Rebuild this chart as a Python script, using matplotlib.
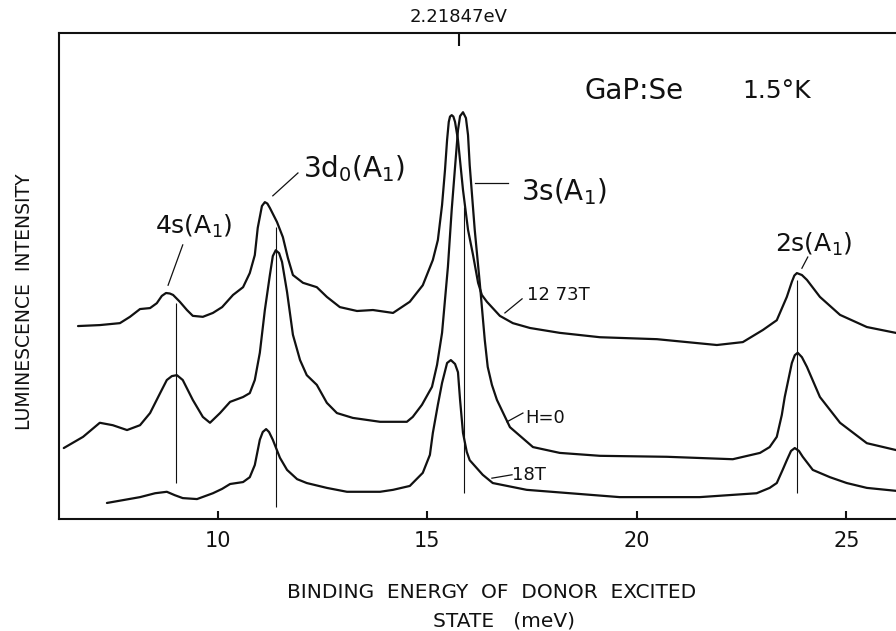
import matplotlib
matplotlib.use('Agg')
import matplotlib.pyplot as plt

plt.rcParams['font.family'] = ['DejaVu Sans']
plt.rcParams['mathtext.default'] = 'regular'

# spectra: binding energy (meV) vs intensity (arb. units, 0-100)
e_1273 = [6.66, 7.18, 7.66, 7.90, 8.14, 8.38, 8.54, 8.66, 8.76, 8.85, 8.93, 9.09, 9.26, 9.40,
          9.64, 9.88, 10.10, 10.36, 10.60, 10.76, 10.88, 10.95, 11.05, 11.12, 11.18, 11.24,
          11.41, 11.55, 11.67, 11.79, 12.03, 12.36, 12.60, 12.91, 13.32, 13.70, 14.18, 14.58,
          14.89, 15.13, 15.25, 15.35, 15.42, 15.47, 15.51, 15.54, 15.58, 15.62, 15.66, 15.73,
          15.85, 15.97, 16.09, 16.21, 16.30, 16.42, 16.73, 17.04, 17.45, 18.16, 19.12, 20.48,
          21.91, 22.53, 23.01, 23.34, 23.58, 23.70, 23.76, 23.82, 23.94, 24.06, 24.37, 24.85,
          25.49, 26.18, 26.40]
i_1273 = [39.7, 39.9, 40.3, 41.6, 43.2, 43.4, 44.4, 45.9, 46.5, 46.4, 46.1, 44.7, 43.0, 41.8,
          41.6, 42.4, 43.6, 46.1, 47.7, 50.6, 54.3, 59.9, 64.4, 65.2, 64.9, 64.0,
          61.1, 58.0, 53.7, 50.2, 48.6, 47.7, 45.7, 43.6, 42.8, 43.0, 42.4, 44.7,
          48.1, 53.3, 57.4, 64.6, 71.8, 78.0, 81.7, 82.8, 83.1, 82.8, 81.7, 78.0,
          67.7, 59.5, 54.3, 48.6, 46.1, 44.7, 41.8, 40.3, 39.3, 38.3, 37.4, 37.0,
          35.8, 36.4, 38.9, 40.9, 45.7, 48.8, 50.1, 50.6, 50.2, 49.2, 45.7, 42.0,
          39.5, 38.3, 37.9]

e_h0 = [6.32, 6.78, 7.18, 7.49, 7.83, 8.14, 8.38, 8.62, 8.78, 8.90, 9.02, 9.16, 9.40, 9.64,
        9.81, 10.05, 10.29, 10.60, 10.76, 10.88, 11.00, 11.12, 11.24, 11.31, 11.38, 11.46,
        11.53, 11.65, 11.79, 11.96, 12.12, 12.36, 12.60, 12.84, 13.22, 13.87, 14.51, 14.65,
        14.87, 15.11, 15.23, 15.35, 15.49, 15.58, 15.66, 15.73, 15.78, 15.85, 15.92, 15.97,
        16.01, 16.13, 16.25, 16.37, 16.44, 16.54, 16.66, 16.97, 17.52, 18.16, 19.12, 20.72,
        22.29, 22.94, 23.17, 23.34, 23.46, 23.53, 23.70, 23.77, 23.84, 23.94, 24.06, 24.37,
        24.85, 25.49, 26.18, 26.40]
i_h0 = [14.6, 16.9, 19.8, 19.3, 18.3, 19.3, 21.8, 25.9, 28.6, 29.4, 29.6, 28.6, 24.5, 21.0,
        19.8, 21.8, 24.1, 25.1, 25.9, 28.6, 34.2, 43.0, 50.2, 54.1, 55.3, 54.7,
        52.9, 46.7, 37.9, 32.7, 29.6, 27.6, 23.9, 21.8, 20.8, 20.0, 20.0, 21.0,
        23.5, 27.2, 31.7, 38.3, 51.9, 63.6, 72.4, 80.0, 82.9, 83.7, 82.5, 79.0,
        72.8, 59.5, 48.6, 36.8, 31.3, 27.6, 24.5, 18.9, 14.8, 13.6, 13.0, 12.8,
        12.3, 13.6, 14.8, 16.9, 21.4, 25.1, 32.1, 33.7, 34.2, 33.3, 31.3, 25.1,
        19.8, 15.6, 14.2, 13.8]

e_18 = [7.35, 8.14, 8.50, 8.78, 8.97, 9.16, 9.50, 9.88, 10.10, 10.29, 10.60, 10.76, 10.88,
        11.00, 11.07, 11.15, 11.22, 11.31, 11.48, 11.65, 11.89, 12.12, 12.60, 13.08, 13.87,
        14.18, 14.58, 14.89, 15.06, 15.13, 15.25, 15.35, 15.47, 15.56, 15.66, 15.73, 15.78,
        15.85, 15.94, 16.01, 16.32, 16.56, 17.37, 19.59, 21.50, 22.86, 23.17, 23.34, 23.48,
        23.58, 23.68, 23.77, 23.87, 23.96, 24.20, 24.61, 25.01, 25.49, 26.18, 26.40]
i_18 = [3.3, 4.5, 5.3, 5.6, 4.9, 4.3, 4.1, 5.3, 6.2, 7.2, 7.6, 8.6, 11.1,
        16.3, 17.9, 18.5, 17.9, 16.3, 12.6, 10.1, 8.2, 7.4, 6.4, 5.6, 5.6,
        6.0, 6.8, 9.5, 13.2, 17.7, 23.5, 28.0, 32.1, 32.7, 31.9, 30.2, 24.5,
        17.7, 13.8, 12.1, 9.1, 7.4, 6.0, 4.5, 4.5, 5.3, 6.4, 7.4, 10.1,
        12.1, 14.0, 14.6, 14.0, 12.8, 10.1, 8.6, 7.4, 6.4, 5.8, 5.6]

# vertical peak markers
marker_e = [9.00, 11.38, 15.87, 23.82]
marker_top = [44.4, 60.1, 64.2, 49.2]
marker_bot = [7.4, 2.5, 5.3, 5.3]

# peak labels with their leader lines
peak_labels = ['4s(A$_1$)', '3d$_0$(A$_1$)', '3s(A$_1$)', '2s(A$_1$)']
peak_label_e = [9.43, 13.25, 18.26, 24.22]
peak_label_i = [60.2, 72.0, 67.3, 56.6]
peak_label_size = [18, 20, 20, 18]
peak_leaders = [([8.81, 9.16], [48.1, 56.4]),
                ([11.31, 11.91], [66.5, 71.2]),
                ([16.13, 16.92], [69.1, 69.1]),
                ([23.94, 24.08], [51.6, 53.9])]

field_labels = ['12 73T', 'H=0', '18T']
field_label_e = [17.37, 17.33, 17.02]
field_label_i = [46.1, 20.8, 9.1]
field_leaders = [([16.85, 17.26], [42.4, 45.3]),
                 ([16.90, 17.28], [20.0, 21.8]),
                 ([16.54, 17.02], [8.4, 9.1])]

ref_energy = 15.75
ref_label = '2.21847eV'

fig = plt.figure(figsize=(8.96, 6.31), dpi=100)
ax = fig.add_axes([0.0658, 0.1775, 0.9442, 0.7702])

ink = '#111111'
for e, i in [(e_1273, i_1273), (e_h0, i_h0), (e_18, i_18)]:
    ax.plot(e, i, color=ink, lw=1.6, solid_joinstyle='round', solid_capstyle='round')

ax.vlines(marker_e, marker_bot, marker_top, color=ink, lw=0.8)

for lab, x, y, fs in zip(peak_labels, peak_label_e, peak_label_i, peak_label_size):
    ax.text(x, y, lab, fontsize=fs, ha='center', va='center', color=ink)
for xs, ys in peak_leaders + field_leaders:
    ax.plot(xs, ys, color=ink, lw=0.9)
for lab, x, y in zip(field_labels, field_label_e, field_label_i):
    ax.text(x, y, lab, fontsize=13, ha='left', va='center', color=ink)

ax.text(18.76, 88.1, 'GaP:Se', fontsize=20, ha='left', va='center', color=ink)
ax.text(22.51, 88.1, '1.5°K', fontsize=18, ha='left', va='center', color=ink)

ax.set_xlim(6.205, 26.40)
ax.set_ylim(0, 100)
ax.set_xticks([10, 15, 20, 25])
ax.set_yticks([])
ax.tick_params(axis='x', direction='in', length=6, width=1.5, pad=9, labelsize=15, colors=ink)
ax.spines['right'].set_visible(False)
for s in ['left', 'bottom', 'top']:
    ax.spines[s].set_linewidth(1.5)
    ax.spines[s].set_color(ink)

secax = ax.secondary_xaxis('top')
secax.set_xticks([ref_energy], labels=[ref_label])
secax.tick_params(direction='in', length=9, width=1.5, pad=5, labelsize=13, colors=ink)
secax.spines['top'].set_visible(False)

fig.text(25 / 896, 1 - 302 / 631, 'LUMINESCENCE  INTENSITY', rotation=90,
         ha='center', va='center', fontsize=13.5, color=ink)
fig.text(492 / 896, 1 - 592 / 631, 'BINDING  ENERGY  OF  DONOR  EXCITED',
         ha='center', va='center', fontsize=14.5, color=ink)
fig.text(504 / 896, 1 - 621 / 631, 'STATE   (meV)',
         ha='center', va='center', fontsize=14.5, color=ink)

fig.savefig('out.png', dpi=100)
